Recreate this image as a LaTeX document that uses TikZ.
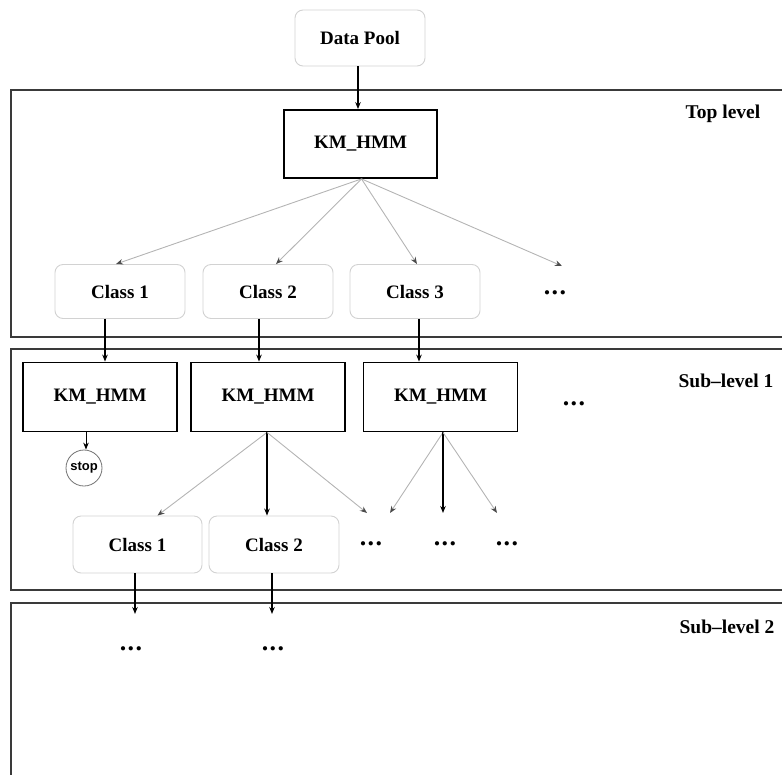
\documentclass[tikz,border=0pt]{standalone}
\usepackage{fontspec}
\setmainfont{Liberation Serif}
\newfontfamily\stopfont{Liberation Sans}
\usetikzlibrary{arrows.meta}
\definecolor{frm}{HTML}{3A3A3A}
\definecolor{rbx}{HTML}{D2D2D2}
\definecolor{garr}{HTML}{B4B4B4}
\tikzset{
  frame/.style={draw=frm, line width=2.4pt},
  rbox/.style={draw=rbx, line width=0.9pt, rounded corners=8pt, minimum width=130pt, minimum height=54pt, font=\fontsize{19}{21}\selectfont\bfseries, inner sep=0pt},
  kbox/.style={draw=black, line width=1.8pt, minimum width=154pt, minimum height=69pt, font=\fontsize{19}{21}\selectfont\bfseries, inner sep=0pt},
  blk/.style={draw=black, line width=1.4pt, -{Stealth[length=7pt,width=5.5pt]}},
  gry/.style={draw=garr, line width=0.9pt, -{Stealth[length=7pt,width=5.5pt,color=black!70]}},
  dotsn/.style={font=\fontsize{26}{26}\selectfont\bfseries, inner sep=0pt},
  lvl/.style={font=\fontsize{19.5}{21}\selectfont\bfseries, inner sep=0pt},
}
\newcommand{\tdots}{.\hspace{1.5pt}.\hspace{1.5pt}.}
\begin{document}
\begin{tikzpicture}[x=1pt,y=-1pt]
\useasboundingbox (0,0) rectangle (782,774);
% frames
\draw[frame] (11,90) rectangle (810,337);
\draw[frame] (11,349) rectangle (810,590);
\draw[frame] (11,603) rectangle (810,800);
\node[lvl] (ltop) at (723,114) {Top level};
\node[lvl] (lsub1) at (726,381) {Sub--level 1};
\node[lvl] (lsub2) at (727,627) {Sub--level 2};
% top level
\node[rbox, minimum width=130pt, minimum height=56pt] (dp) at (360,38) {Data Pool};
\node[kbox, minimum width=153pt, minimum height=68pt] (ktop) at (360.5,144) {KM\_HMM};
\node[rbox] (c1) at (120,291.5) {Class 1};
\node[rbox] (c2) at (268,291.5) {Class 2};
\node[rbox] (c3) at (415,291.5) {Class 3};
\node[dotsn] (cd) at (555,293) {\tdots};
\coordinate (cdt) at (562,266);
\draw[blk] ([xshift=-2pt]dp.south) -- ([xshift=-2.5pt]ktop.north);
\draw[gry] ([xshift=1pt]ktop.south) -- ([xshift=-4pt]c1.north);
\draw[gry] ([xshift=1pt]ktop.south) -- ([xshift=8pt]c2.north);
\draw[gry] ([xshift=1pt]ktop.south) -- ([xshift=2pt]c3.north);
\draw[gry] ([xshift=1pt]ktop.south) -- (cdt);
% sub-level 1
\node[kbox] (k1) at (100,397) {KM\_HMM};
\node[kbox] (k2) at (268,397) {KM\_HMM};
\node[kbox] (k3) at (440.5,397) {KM\_HMM};
\node[dotsn] (kd) at (574,404) {\tdots};
\draw[blk] ([xshift=-15pt]c1.south) -- ([xshift=5pt]k1.north);
\draw[blk] ([xshift=-9pt]c2.south) -- ([xshift=-9pt]k2.north);
\draw[blk] ([xshift=4pt]c3.south) -- ([xshift=-21.5pt]k3.north);
\node[draw=black!55, line width=0.8pt, circle, minimum size=36pt, inner sep=0pt, font=\stopfont\fontsize{13}{14}\selectfont\bfseries] (stop) at (84,468) {stop};
\draw[blk, line width=1pt] ([xshift=-14pt]k1.south) -- ([xshift=2pt]stop.north);
\node[rbox, minimum width=129pt, minimum height=57pt] (s1) at (137.5,544.5) {Class 1};
\node[rbox, minimum width=130pt, minimum height=57pt] (s2) at (274,544.5) {Class 2};
\node[dotsn] (sd1) at (371,544) {\tdots};
\node[dotsn] (sd2) at (445,544) {\tdots};
\node[dotsn] (sd3) at (507,544) {\tdots};
\coordinate (sd1a) at (367,513);
\coordinate (sd1b) at (390,513);
\coordinate (sd2t) at (443,513);
\coordinate (sd3t) at (497,513);
\draw[gry] ([xshift=-1pt]k2.south) -- ([xshift=20pt]s1.north);
\draw[blk] ([xshift=-1pt]k2.south) -- ([xshift=-7pt]s2.north);
\draw[gry] ([xshift=-1pt]k2.south) -- (sd1a);
\draw[gry] ([xshift=2.5pt]k3.south) -- (sd1b);
\draw[blk] ([xshift=2.5pt]k3.south) -- (sd2t);
\draw[gry] ([xshift=2.5pt]k3.south) -- (sd3t);
% sub-level 2
\node[dotsn] (t1) at (131,649) {\tdots};
\node[dotsn] (t2) at (273,649) {\tdots};
\coordinate (t1a) at (135,614);
\coordinate (t2a) at (272,614);
\draw[blk] ([xshift=-2.5pt]s1.south) -- (t1a);
\draw[blk] ([xshift=-2pt]s2.south) -- (t2a);
\end{tikzpicture}
\end{document}
